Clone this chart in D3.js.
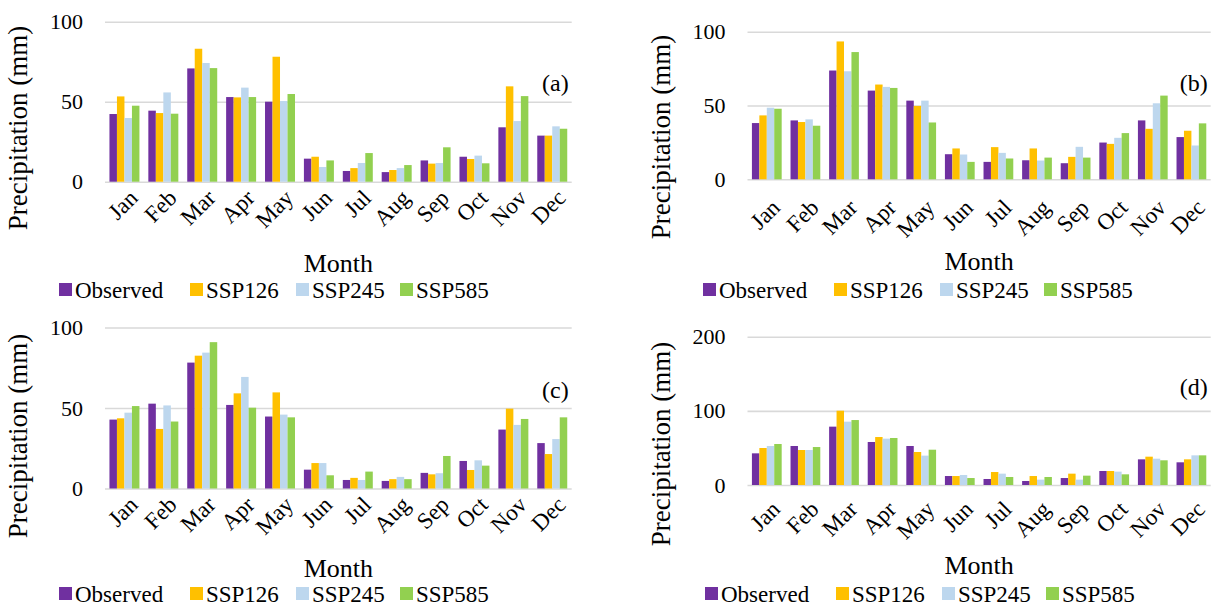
<!DOCTYPE html>
<html><head><meta charset="utf-8">
<script src="https://cdn.jsdelivr.net/npm/d3@7"></script>
<style>
html,body{margin:0;padding:0;background:#fff;}
svg{display:block;}
svg text{font-family:"Liberation Serif","Times New Roman",Times,serif !important;}
</style></head>
<body><svg id="c" width="1215" height="608"></svg>
<script>
const months = ["Jan","Feb","Mar","Apr","May","Jun","Jul","Aug","Sep","Oct","Nov","Dec"];
const seriesNames = ["Observed","SSP126","SSP245","SSP585"];
const seriesColors = ["#7030A0","#FFC000","#BDD7EE","#92D050"];

// Panel (a)
const a_observed = [42.3,44.4,70.8,52.9,50.0,14.4,6.7,6.0,13.3,15.6,34.0,28.8];
const a_ssp126   = [53.3,42.9,83.1,52.7,78.1,15.6,8.5,7.3,11.3,14.2,59.6,28.8];
const a_ssp245   = [39.8,55.8,74.2,58.8,50.4,9.2,11.7,8.5,11.7,16.3,37.9,34.6];
const a_ssp585   = [47.5,42.5,71.0,52.9,54.8,13.3,17.9,10.4,21.5,11.5,53.5,33.1];
// Panel (b)
const b_observed = [38.1,39.9,73.7,60.1,53.3,17.0,11.8,12.9,10.9,24.9,39.9,28.6];
const b_ssp126   = [43.3,38.8,93.4,64.2,49.7,20.9,21.8,20.9,15.2,24.0,34.2,32.9];
const b_ssp245   = [48.5,40.6,73.2,62.6,53.3,16.8,17.9,12.7,22.0,28.1,51.5,22.9];
const b_ssp585   = [47.8,36.3,86.2,61.9,38.5,11.8,14.1,14.7,14.7,31.3,56.7,37.9];
// Panel (c)
const c_observed = [42.8,52.7,78.2,51.9,44.7,11.7,5.3,4.7,9.7,17.1,36.6,28.2];
const c_ssp126   = [43.6,37.0,82.5,59.1,59.7,15.8,6.6,5.8,8.8,11.5,49.6,21.4];
const c_ssp245   = [47.1,51.6,84.4,69.3,45.9,15.8,5.3,7.2,9.5,17.5,39.5,30.7];
const c_ssp585   = [51.2,41.6,90.9,50.2,44.2,8.2,10.5,5.8,20.2,14.2,43.2,44.2];
// Panel (d)
const d_observed = [42.7,52.6,78.7,58.0,52.6,12.1,8.1,5.4,9.4,18.9,34.6,30.6];
const d_ssp126   = [49.9,47.2,100.2,64.7,44.5,12.1,17.5,12.1,15.3,18.9,38.2,34.6];
const d_ssp245   = [52.6,47.2,85.4,62.5,39.6,13.5,15.3,7.2,7.2,18.0,35.5,40.0];
const d_ssp585   = [55.3,51.2,87.6,63.4,47.6,9.4,10.8,10.8,12.6,14.4,33.3,40.0];

const ticksSmall = [0,50,100];
const ticksLarge = [0,100,200];
const panelLetters = ["(a)","(b)","(c)","(d)"];
const yTitle = "Precipitation (mm)";
const xTitle = "Month";

const panels = [
  {data:[a_observed,a_ssp126,a_ssp245,a_ssp585], yMax:100, ticks:ticksSmall, letter:panelLetters[0],
   x0:105, x1:571.7, top:21.7, bottom:181.7, labDy:12, letterY:83, yTitleX:18, yTitleY:128, xTitleY:272, legX:59, legY:298},
  {data:[b_observed,b_ssp126,b_ssp245,b_ssp585], yMax:100, ticks:ticksSmall, letter:panelLetters[1],
   x0:747.5, x1:1210.7, top:31.7, bottom:179.3, labDy:24, letterY:83, yTitleX:661, yTitleY:137, xTitleY:270, legX:703, legY:298},
  {data:[c_observed,c_ssp126,c_ssp245,c_ssp585], yMax:100, ticks:ticksSmall, letter:panelLetters[2],
   x0:105, x1:571.7, top:327.5, bottom:488.5, labDy:12, letterY:390, yTitleX:18, yTitleY:436, xTitleY:577, legX:59, legY:602},
  {data:[d_observed,d_ssp126,d_ssp245,d_ssp585], yMax:200, ticks:ticksLarge, letter:panelLetters[3],
   x0:747.5, x1:1210.7, top:336.7, bottom:485, labDy:20, letterY:387, yTitleX:661, yTitleY:444, xTitleY:574, legX:705, legY:602}
];

const legendOffsets = [0,131,237,341];
const svg = d3.select("#c");

panels.forEach(p => {
  const g = svg.append("g");
  const x = d3.scaleBand().domain(months).range([p.x0,p.x1]).paddingInner(0.229).paddingOuter(0.1145);
  const xs = d3.scaleBand().domain(seriesNames).range([0,x.bandwidth()]).padding(0);
  const y = d3.scaleLinear().domain([0,p.yMax]).range([p.bottom,p.top]);

  // gridlines + y tick labels
  const yAxis = d3.axisLeft(y).tickValues(p.ticks).tickSize(-(p.x1-p.x0)).tickPadding(22);
  const ya = g.append("g").attr("transform",`translate(${p.x0},0)`).call(yAxis);
  ya.select(".domain").remove();
  ya.selectAll(".tick line").attr("stroke","#D9D9D9").attr("stroke-width",1.6);
  ya.selectAll(".tick text").attr("font-size","22px").attr("fill","#000");

  // bars
  seriesNames.forEach((s,si) => {
    g.append("g").selectAll("rect").data(p.data[si]).join("rect")
      .attr("x",(d,i)=>x(months[i])+xs(s))
      .attr("width",xs.bandwidth())
      .attr("y",d=>y(d))
      .attr("height",d=>y(0)-y(d))
      .attr("fill",seriesColors[si]);
  });

  // x axis labels
  const xAxis = d3.axisBottom(x).tickSize(0).tickPadding(0);
  const xa = g.append("g").attr("transform",`translate(0,${p.bottom})`).call(xAxis);
  xa.select(".domain").remove();
  xa.selectAll(".tick text")
    .attr("font-size","23px").attr("fill","#000")
    .attr("text-anchor","end")
    .attr("transform",`translate(9,${p.labDy}) rotate(-45)`)
    .attr("dy","0.35em").attr("y",0);

  // panel letter
  g.append("text").attr("x",p.x1-3).attr("y",p.letterY).attr("dy","0.35em")
    .attr("text-anchor","end").attr("font-size","24px").text(p.letter);

  // axis titles
  g.append("text").attr("transform",`translate(${p.yTitleX},${p.yTitleY}) rotate(-90)`)
    .attr("text-anchor","middle").attr("dy","0.35em").attr("font-size","27px").text(yTitle);
  g.append("text").attr("x",(p.x0+p.x1)/2).attr("y",p.xTitleY)
    .attr("text-anchor","middle").attr("font-size","26px").text(xTitle);

  // legend
  const lg = g.append("g").attr("transform",`translate(${p.legX},${p.legY})`);
  seriesNames.forEach((s,si)=>{
    const it = lg.append("g").attr("transform",`translate(${legendOffsets[si]},0)`);
    it.append("rect").attr("x",0).attr("y",-15).attr("width",13).attr("height",13).attr("fill",seriesColors[si]);
    it.append("text").attr("x",16).attr("y",0).attr("font-size","23px").text(s);
  });
});
</script></body></html>
